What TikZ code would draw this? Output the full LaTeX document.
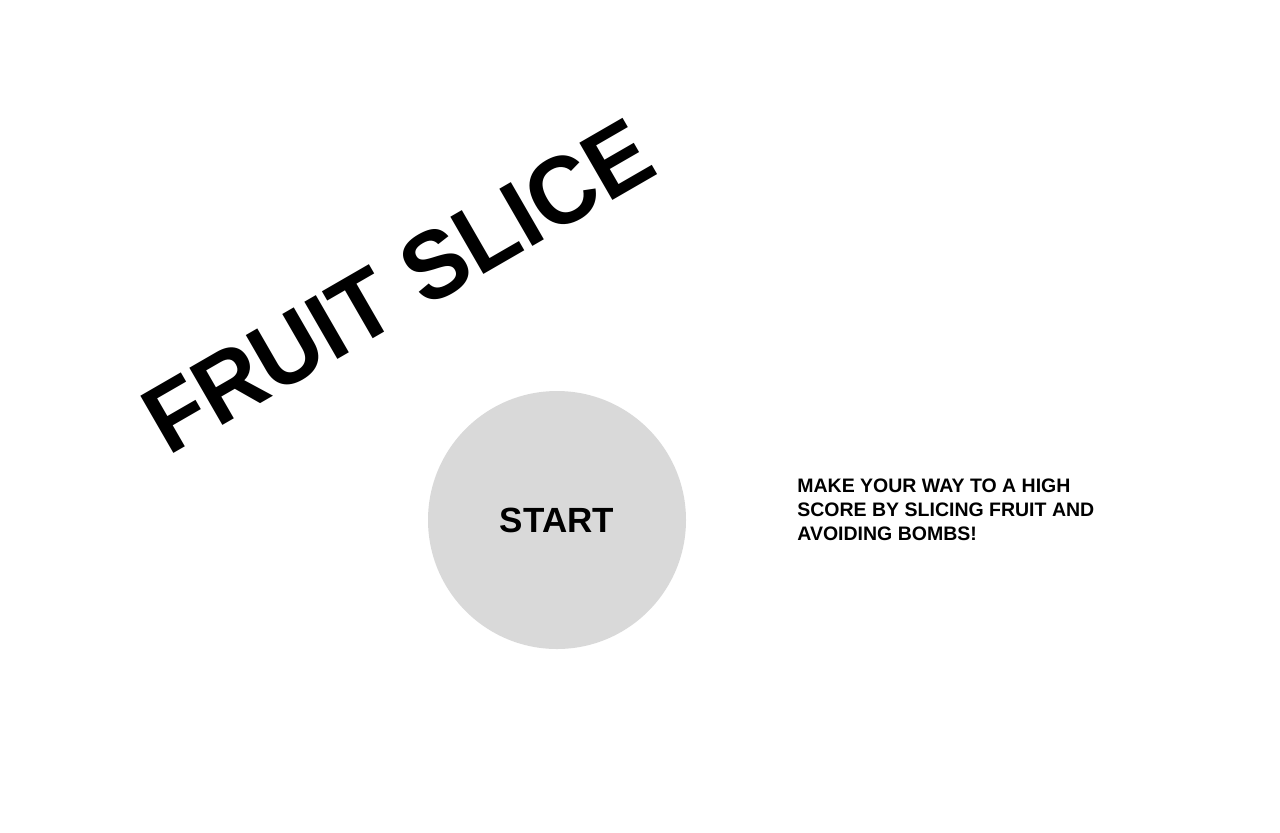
\documentclass[tikz,border=0pt]{standalone}
\usepackage{fontspec}
\setmainfont{Liberation Sans}
\definecolor{btngray}{HTML}{D9D9D9}
\tikzset{
  titletext/.style={font=\bfseries\fontsize{48}{50}\selectfont, inner sep=0pt},
  startbtn/.style={circle, fill=btngray, minimum size=129pt, inner sep=0pt, font=\bfseries\fontsize{17.5}{20}\selectfont},
  infotext/.style={font=\bfseries\fontsize{9.75}{12}\selectfont, align=left, inner sep=0pt}
}
\begin{document}
\begin{tikzpicture}[x=0.5pt, y=-0.5pt]
    \useasboundingbox (0,0) rectangle (1280,832);
    \node[titletext, rotate=30] (title) at (398,286) {\scalebox{0.96}[1]{FRUIT SLICE}};
    \node[startbtn] (start) at (557,520) {START};
    \node[infotext, anchor=north west] (info) at (797,478) {MAKE YOUR WAY TO A HIGH\\SCORE BY SLICING FRUIT AND\\AVOIDING BOMBS!};
\end{tikzpicture}
\end{document}
